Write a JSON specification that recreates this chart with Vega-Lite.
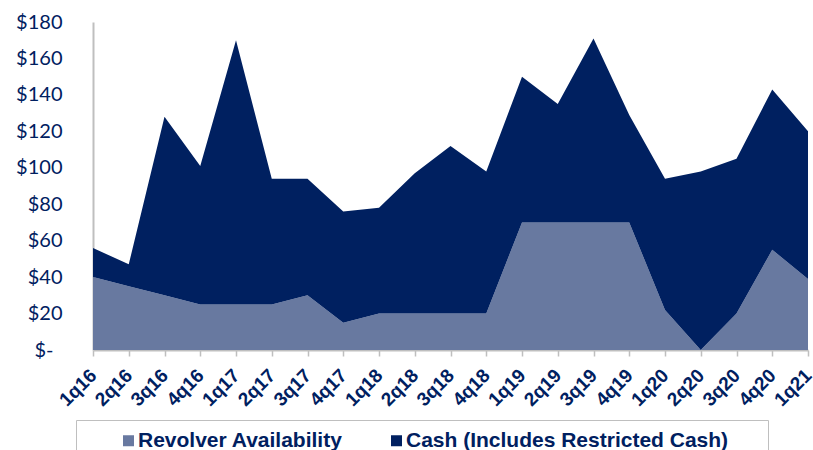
{
  "$schema": "https://vega.github.io/schema/vega-lite/v6.json",
  "width": 715,
  "height": 328,
  "autosize": {"type": "none"},
  "padding": {"left": 93, "top": 22, "right": 5, "bottom": 100},
  "background": "white",
  "config": {"view": {"stroke": null}},
  "data": {
    "values": [
      {"q": "1q16", "s": "Revolver Availability", "v": 40},
      {"q": "2q16", "s": "Revolver Availability", "v": 35},
      {"q": "3q16", "s": "Revolver Availability", "v": 30},
      {"q": "4q16", "s": "Revolver Availability", "v": 25},
      {"q": "1q17", "s": "Revolver Availability", "v": 25},
      {"q": "2q17", "s": "Revolver Availability", "v": 25},
      {"q": "3q17", "s": "Revolver Availability", "v": 30},
      {"q": "4q17", "s": "Revolver Availability", "v": 15},
      {"q": "1q18", "s": "Revolver Availability", "v": 20},
      {"q": "2q18", "s": "Revolver Availability", "v": 20},
      {"q": "3q18", "s": "Revolver Availability", "v": 20},
      {"q": "4q18", "s": "Revolver Availability", "v": 20},
      {"q": "1q19", "s": "Revolver Availability", "v": 70},
      {"q": "2q19", "s": "Revolver Availability", "v": 70},
      {"q": "3q19", "s": "Revolver Availability", "v": 70},
      {"q": "4q19", "s": "Revolver Availability", "v": 70},
      {"q": "1q20", "s": "Revolver Availability", "v": 22},
      {"q": "2q20", "s": "Revolver Availability", "v": 0},
      {"q": "3q20", "s": "Revolver Availability", "v": 20},
      {"q": "4q20", "s": "Revolver Availability", "v": 55},
      {"q": "1q21", "s": "Revolver Availability", "v": 39},
      {"q": "1q16", "s": "Cash (Includes Restricted Cash)", "v": 16},
      {"q": "2q16", "s": "Cash (Includes Restricted Cash)", "v": 12},
      {"q": "3q16", "s": "Cash (Includes Restricted Cash)", "v": 98},
      {"q": "4q16", "s": "Cash (Includes Restricted Cash)", "v": 76},
      {"q": "1q17", "s": "Cash (Includes Restricted Cash)", "v": 145},
      {"q": "2q17", "s": "Cash (Includes Restricted Cash)", "v": 69},
      {"q": "3q17", "s": "Cash (Includes Restricted Cash)", "v": 64},
      {"q": "4q17", "s": "Cash (Includes Restricted Cash)", "v": 61},
      {"q": "1q18", "s": "Cash (Includes Restricted Cash)", "v": 58},
      {"q": "2q18", "s": "Cash (Includes Restricted Cash)", "v": 77},
      {"q": "3q18", "s": "Cash (Includes Restricted Cash)", "v": 92},
      {"q": "4q18", "s": "Cash (Includes Restricted Cash)", "v": 78},
      {"q": "1q19", "s": "Cash (Includes Restricted Cash)", "v": 80},
      {"q": "2q19", "s": "Cash (Includes Restricted Cash)", "v": 65},
      {"q": "3q19", "s": "Cash (Includes Restricted Cash)", "v": 101},
      {"q": "4q19", "s": "Cash (Includes Restricted Cash)", "v": 59},
      {"q": "1q20", "s": "Cash (Includes Restricted Cash)", "v": 72},
      {"q": "2q20", "s": "Cash (Includes Restricted Cash)", "v": 98},
      {"q": "3q20", "s": "Cash (Includes Restricted Cash)", "v": 85},
      {"q": "4q20", "s": "Cash (Includes Restricted Cash)", "v": 88},
      {"q": "1q21", "s": "Cash (Includes Restricted Cash)", "v": 81}
    ]
  },
  "mark": {"type": "area", "opacity": 1, "interpolate": "linear"},
  "encoding": {
    "x": {
      "field": "q",
      "type": "ordinal",
      "sort": null,
      "scale": {"type": "point", "padding": 0},
      "axis": {
        "title": null,
        "grid": false,
        "labelAngle": -45,
        "labelAlign": "right",
        "labelBaseline": "middle",
        "labelFont": "Liberation Sans",
        "labelFontWeight": "bold",
        "labelFontSize": 19,
        "labelColor": "#002060",
        "labelPadding": 16,
        "labelOverlap": false,
        "domainColor": "#bfbfbf",
        "domainWidth": 2,
        "tickColor": "#bfbfbf",
        "tickSize": 6,
        "tickWidth": 1.5
      }
    },
    "y": {
      "field": "v",
      "type": "quantitative",
      "stack": "zero",
      "scale": {"domain": [0, 180], "nice": false},
      "axis": {
        "title": null,
        "grid": false,
        "ticks": false,
        "values": [0, 20, 40, 60, 80, 100, 120, 140, 160, 180],
        "labelExpr": "datum.value == 0 ? '$-' : '$' + datum.value",
        "labelFont": "Lato",
        "labelFontSize": 20,
        "labelColor": "#002060",
        "labelPadding": {"condition": {"test": "datum.value == 0", "value": 40}, "value": 31},
        "domainColor": "#bfbfbf",
        "domainWidth": 2
      }
    },
    "color": {
      "field": "s",
      "type": "nominal",
      "scale": {
        "domain": ["Revolver Availability", "Cash (Includes Restricted Cash)"],
        "range": ["#6879a0", "#002060"]
      },
      "legend": {
        "title": " ",
        "titleOrient": "right",
        "titlePadding": 30,
        "orient": "none",
        "legendX": -17,
        "legendY": 398,
        "direction": "horizontal",
        "symbolType": "square",
        "symbolSize": 121,
        "symbolStrokeWidth": 0,
        "labelFont": "Liberation Sans",
        "labelFontWeight": "bold",
        "labelFontSize": 21,
        "labelColor": "#002060",
        "labelLimit": 500,
        "labelOffset": -1,
        "strokeColor": "#bfbfbf",
        "fillColor": "white",
        "padding": 10,
        "symbolOffset": 32,
        "columnPadding": 11
      }
    },
    "order": {"field": "s", "sort": "descending"}
  }
}
